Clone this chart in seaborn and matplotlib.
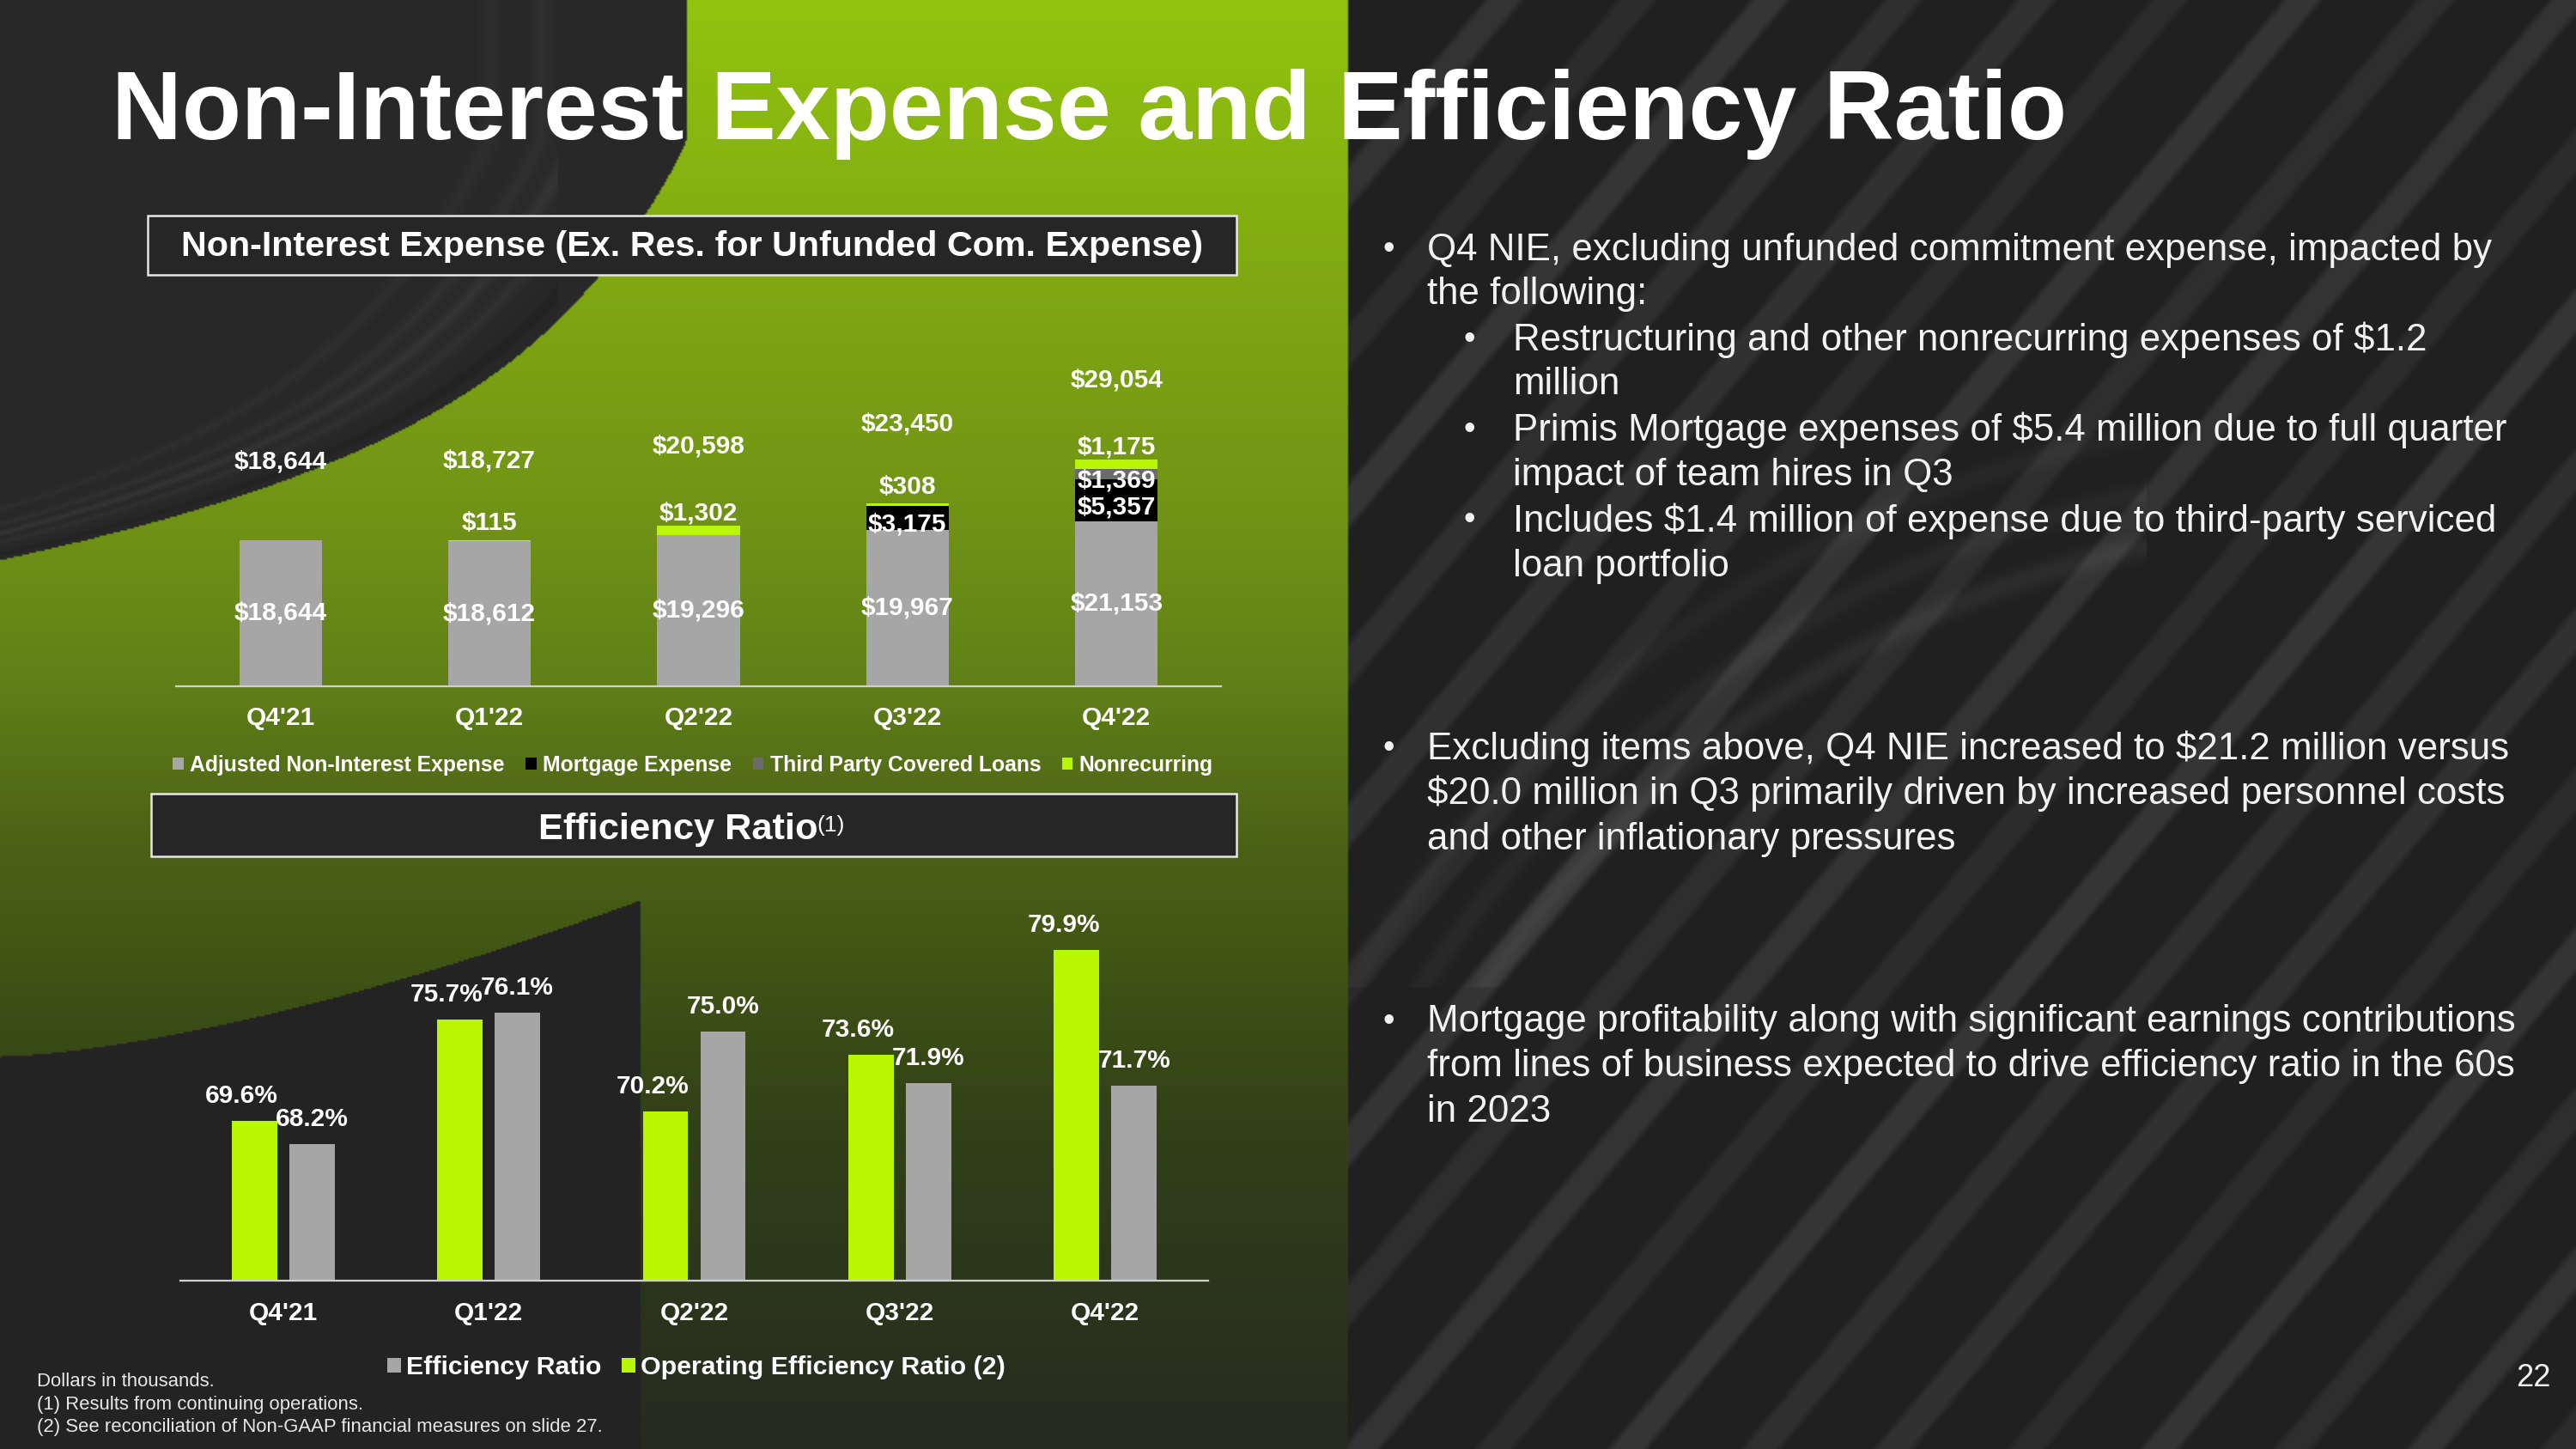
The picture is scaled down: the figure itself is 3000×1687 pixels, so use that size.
import numpy as np
import pandas as pd
import matplotlib
matplotlib.use("Agg")
import matplotlib.pyplot as plt
from matplotlib.patches import Rectangle, Patch
import seaborn as sns

# ---------------- data ----------------
quarters = ["Q4'21", "Q1'22", "Q2'22", "Q3'22", "Q4'22"]
adjusted_nie = [18644, 18612, 19296, 19967, 21153]
mortgage_exp = [0, 0, 0, 3175, 5357]
third_party = [0, 0, 0, 0, 1369]
nonrecurring = [0, 115, 1302, 308, 1175]
nie_series = ["Adjusted Non-Interest Expense", "Mortgage Expense",
              "Third Party Covered Loans", "Nonrecurring"]

efficiency_ratio = [68.2, 76.1, 75.0, 71.9, 71.7]
operating_eff_ratio = [69.6, 75.7, 70.2, 73.6, 79.9]
eff_series = ["Efficiency Ratio", "Operating Efficiency Ratio (2)"]

title_text = "Non-Interest Expense and Efficiency Ratio"
header_top = "Non-Interest Expense (Ex. Res. for Unfunded Com. Expense)"
header_bottom = "Efficiency Ratio"
header_bottom_sup = "(1)"
bullets = [
    (0, ["Q4 NIE, excluding unfunded commitment expense, impacted by", "the following:"]),
    (1, ["Restructuring and other nonrecurring expenses of $1.2", "million"]),
    (1, ["Primis Mortgage expenses of $5.4 million due to full quarter", "impact of team hires in Q3"]),
    (1, ["Includes $1.4 million of expense due to third-party serviced", "loan portfolio"]),
    (0, ["Excluding items above, Q4 NIE increased to $21.2 million versus",
         "$20.0 million in Q3 primarily driven by increased personnel costs",
         "and other inflationary pressures"]),
    (0, ["Mortgage profitability along with significant earnings contributions",
         "from lines of business expected to drive efficiency ratio in the 60s",
         "in 2023"]),
]
footnotes = ["Dollars in thousands.", "(1) Results from continuing operations.",
             "(2) See reconciliation of Non-GAAP financial measures on slide 27."]
page_number = "22"

# ---------------- style ----------------
C_ADJ = "#a6a6a6"
C_MORT = "#000000"
C_TP = "#6b6b6b"
C_GREEN = "#b9f700"
WHITE = "#ffffff"

W, H, DPI = 3000, 1687, 100
sns.set_theme(style="white")
plt.rcParams["font.family"] = ["Liberation Sans", "DejaVu Sans"]

fig = plt.figure(figsize=(W / DPI, H / DPI), dpi=DPI)
fig.patch.set_facecolor("#2a2a2a")


def fx(px):
    return px / W


def fy(py):
    return 1 - py / H


def px2pt(px):
    return px * 72 / DPI


# ---------------- background (decorative) ----------------
step = 2
yy, xx = np.mgrid[0:H:step, 0:W:step].astype(np.float32)
img = np.empty(yy.shape + (3,), np.float32)
img[:] = np.array([32, 32, 32], np.float32) / 255

# right-hand diagonal bands
s = xx + yy / 1.2
band = np.zeros_like(xx)
strengths = [0.075, 0.05, 0.085, 0.06, 0.07, 0.045, 0.08, 0.055]
for k, c in enumerate(np.arange(1750, 4500, 155)):
    band += strengths[k % len(strengths)] * np.clip((26 - np.abs(s - c)) / 10.0, 0, 1)
ring = np.sqrt((xx - 2750) ** 2 + (yy - 1850) ** 2)
for r0, a in [(1240, 0.05), (1300, 0.035), (1370, 0.03)]:
    band += a * np.exp(-((ring - r0) / 14.0) ** 2) * (yy < 1150) * (xx < 2500)
right = xx >= 1570
img[right] += band[right][:, None]

# green column / swoosh
stops_y = [0, 300, 645, 800, 968, 1130, 1291, 1687]
stops_c = np.array([[146, 196, 14], [130, 170, 18], [110, 143, 22], [96, 127, 24],
                    [76, 100, 22], [63, 84, 20], [51, 66, 24], [38, 42, 32]], np.float32) / 255
green = np.stack([np.interp(yy, stops_y, stops_c[:, k]) for k in range(3)], -1)
edge_y = np.array([0, 240, 320, 395, 473, 556, 607, 652], float)
edge_x = np.array([800, 756, 700, 620, 517, 344, 172, 0], float)
coef = np.polyfit(edge_y, edge_x, 4)
xedge = np.clip(np.polyval(coef, yy), 0, 800)
darkA = (yy < 652) & (xx < xedge)
darkB = (xx < 745) & (yy > 1230 - 182 * (xx / 745.0) ** 1.5)
gmask = (xx < 1570) & ~darkA & ~darkB
img[gmask] = green[gmask]
dist = xedge - xx
dA = np.full(xx.shape, 40 / 255, np.float32)
for c, a in [(30, -0.02), (90, 0.03), (130, 0.045), (170, 0.03), (230, 0.025)]:
    dA += a * np.exp(-((dist - c) / 12.0) ** 2) * (xx < 650)
img[darkA] = dA[darkA][:, None]
img[darkB] = np.array([35, 35, 35], np.float32) / 255
img = np.clip(img, 0, 1)

bg = fig.add_axes([0, 0, 1, 1])
bg.imshow(img, extent=(0, W, H, 0), aspect="auto", interpolation="bilinear")
bg.axis("off")
bg.set_zorder(-10)

renderer = fig.canvas.get_renderer()


def fit_width(t, target):
    for _ in range(3):
        w = t.get_window_extent(renderer).width
        t.set_fontsize(t.get_fontsize() * target / w)


# ---------------- title ----------------
t = fig.text(fx(130), fy(162), title_text, ha="left", va="baseline",
             fontsize=84, fontweight="bold", color=WHITE)
fit_width(t, 2277)


# ---------------- header boxes ----------------
def header_box(x0, y0, x1, y1):
    fig.add_artist(Rectangle((fx(x0), fy(y1)), fx(x1) - fx(x0), (y1 - y0) / H,
                             transform=fig.transFigure, facecolor="#262626",
                             edgecolor="#e6e6e6", linewidth=1.8, zorder=2))


header_box(172, 251, 1440, 320)
t = fig.text(fx(806), fy(287), header_top, ha="center", va="center",
             fontsize=27, fontweight="bold", color=WHITE, zorder=3)
fit_width(t, 1192)

header_box(176, 924, 1440, 997)
t = fig.text(fx(627), fy(977), header_bottom, ha="left", va="baseline",
             fontsize=30, fontweight="bold", color=WHITE, zorder=3)
fit_width(t, 326)
wmain = t.get_window_extent(renderer).width
fig.text(fx(627 + wmain - 1), fy(968), header_bottom_sup, ha="left", va="baseline",
         fontsize=19, color=WHITE, zorder=3)

LABEL_FS = 21.5

# ---------------- top chart: stacked NIE ----------------
ax1 = fig.add_axes([fx(205), fy(798.5), fx(1422) - fx(205), (798.5 - 400) / H])
ax1.set_facecolor("none")
bottoms = np.zeros(len(quarters))
layers = [adjusted_nie, mortgage_exp, third_party, nonrecurring]
colors = [C_ADJ, C_MORT, C_TP, C_GREEN]
label_dy = {nie_series[0]: 0, nie_series[1]: -8, nie_series[2]: -8, nie_series[3]: 20}
for name, vals, col in zip(nie_series, layers, colors):
    sns.barplot(x=quarters, y=vals, order=quarters, color=col, saturation=1,
                width=0.395, bottom=bottoms.copy(), linewidth=0, ax=ax1, errorbar=None)
    cont = ax1.containers[-1]
    for p, v in zip(cont.patches, vals):
        if v <= 0:
            continue
        xc = p.get_x() + p.get_width() / 2
        yc = p.get_y() + p.get_height() / 2
        ax1.annotate(f"${v:,}", xy=(xc, yc), xytext=(0, px2pt(label_dy[name])),
                     textcoords="offset points", ha="center", va="center",
                     fontsize=LABEL_FS, fontweight="bold", color=WHITE, zorder=5)
    bottoms = bottoms + np.array(vals)

totals = [a + b + c + d for a, b, c, d in zip(*layers)]
for p, tot in zip(ax1.containers[-1].patches, totals):
    xc = p.get_x() + p.get_width() / 2
    ax1.annotate(f"${tot:,}", xy=(xc, tot), xytext=(0, px2pt(92)), textcoords="offset points",
                 ha="center", va="center", fontsize=LABEL_FS, fontweight="bold", color=WHITE)

ax1.set_xlim(-0.5, len(quarters) - 0.5)
ax1.set_ylim(0, 398.5 * 110.2)
for sp in ["top", "right", "left"]:
    ax1.spines[sp].set_visible(False)
ax1.spines["bottom"].set_color("#d0d0d0")
ax1.spines["bottom"].set_linewidth(1.6)
ax1.set_yticks([])
ax1.set_xticks([])
ax1.set_xlabel("")
ax1.set_ylabel("")
for i, q in enumerate(quarters):
    ax1.annotate(q, xy=(i, 0), xycoords=("data", "axes fraction"), xytext=(0, -px2pt(37.5)),
                 textcoords="offset points", ha="center", va="center",
                 fontsize=LABEL_FS, fontweight="bold", color=WHITE)

fig.legend(handles=[Patch(facecolor=c, edgecolor="none", label=n) for n, c in zip(nie_series, colors)],
           loc="center", bbox_to_anchor=(fx(807), fy(891)), ncol=4, frameon=False,
           handlelength=0.5, handleheight=0.5, handletextpad=0.3, columnspacing=1.0,
           borderaxespad=0, prop={"weight": "bold", "size": 17.8}, labelcolor=WHITE)

# ---------------- bottom chart: efficiency ratio ----------------
ax2 = fig.add_axes([fx(210), fy(1491), fx(1407) - fx(210), (1491 - 1080) / H])
ax2.set_facecolor("none")
eff_df = pd.DataFrame({
    "quarter": quarters * 2,
    "ratio": operating_eff_ratio + efficiency_ratio,
    "series": [eff_series[1]] * len(quarters) + [eff_series[0]] * len(quarters),
})
sns.barplot(data=eff_df, x="quarter", y="ratio", hue="series", order=quarters,
            hue_order=[eff_series[1], eff_series[0]], palette=[C_GREEN, C_ADJ],
            saturation=1, width=0.56, gap=0.21, linewidth=0, ax=ax2, legend=False,
            errorbar=None)
ax2.set_ylim(60, 60 + (1491 - 1080) / 19.36)
ax2.set_xlim(-0.5, len(quarters) - 0.5)
for cont, vals, dx in zip(ax2.containers, [operating_eff_ratio, efficiency_ratio], [-15, 0]):
    for p, v in zip(cont.patches, vals):
        xc = p.get_x() + p.get_width() / 2
        ax2.annotate(f"{v:.1f}%", xy=(xc, v), xytext=(px2pt(dx), px2pt(29)),
                     textcoords="offset points", ha="center", va="center",
                     fontsize=LABEL_FS, fontweight="bold", color=WHITE, annotation_clip=False)
for sp in ["top", "right", "left"]:
    ax2.spines[sp].set_visible(False)
ax2.spines["bottom"].set_color("#d0d0d0")
ax2.spines["bottom"].set_linewidth(1.6)
ax2.set_yticks([])
ax2.set_xticks([])
ax2.set_xlabel("")
ax2.set_ylabel("")
for i, q in enumerate(quarters):
    ax2.annotate(q, xy=(i, 0), xycoords=("data", "axes fraction"), xytext=(0, -px2pt(38)),
                 textcoords="offset points", ha="center", va="center",
                 fontsize=LABEL_FS, fontweight="bold", color=WHITE)

fig.legend(handles=[Patch(facecolor=C_ADJ, edgecolor="none", label=eff_series[0]),
                    Patch(facecolor=C_GREEN, edgecolor="none", label=eff_series[1])],
           loc="center", bbox_to_anchor=(fx(811), fy(1592)), ncol=2, frameon=False,
           handlelength=0.5, handleheight=0.5, handletextpad=0.2, columnspacing=0.8,
           borderaxespad=0, prop={"weight": "bold", "size": 21.9}, labelcolor=WHITE)

# ---------------- right-hand commentary ----------------
line_y = [291, 342.5, 396, 447.6, 501, 553, 606.5, 660, 872, 924, 977.5, 1190, 1241.5, 1295]
text_objs = []
probe = None
k = 0
for level, lines in bullets:
    bx, tx = (1611, 1662) if level == 0 else (1705, 1762)
    fig.text(fx(bx), fy(line_y[k]), "\u2022", ha="left", va="center", fontsize=28, color="#f2f2f2")
    for ln in lines:
        to = fig.text(fx(tx), fy(line_y[k]), ln, ha="left", va="center", fontsize=31, color="#f2f2f2")
        text_objs.append(to)
        if ln.startswith("Mortgage profitability"):
            probe = to
        k += 1
fit_width(probe, 1270)
for to in text_objs:
    to.set_fontsize(probe.get_fontsize())

# ---------------- footnotes & page number ----------------
fts = []
for y, ft in zip([1608, 1635, 1662], footnotes):
    fts.append(fig.text(fx(43), fy(y), ft, ha="left", va="center", fontsize=14, color="#e8e8e8"))
fit_width(fts[-1], 658)
for f in fts:
    f.set_fontsize(fts[-1].get_fontsize())
fig.text(fx(2950), fy(1605), page_number, ha="center", va="center", fontsize=26, color="#f2f2f2")

fig.savefig("out.png", dpi=DPI, facecolor=fig.get_facecolor())
